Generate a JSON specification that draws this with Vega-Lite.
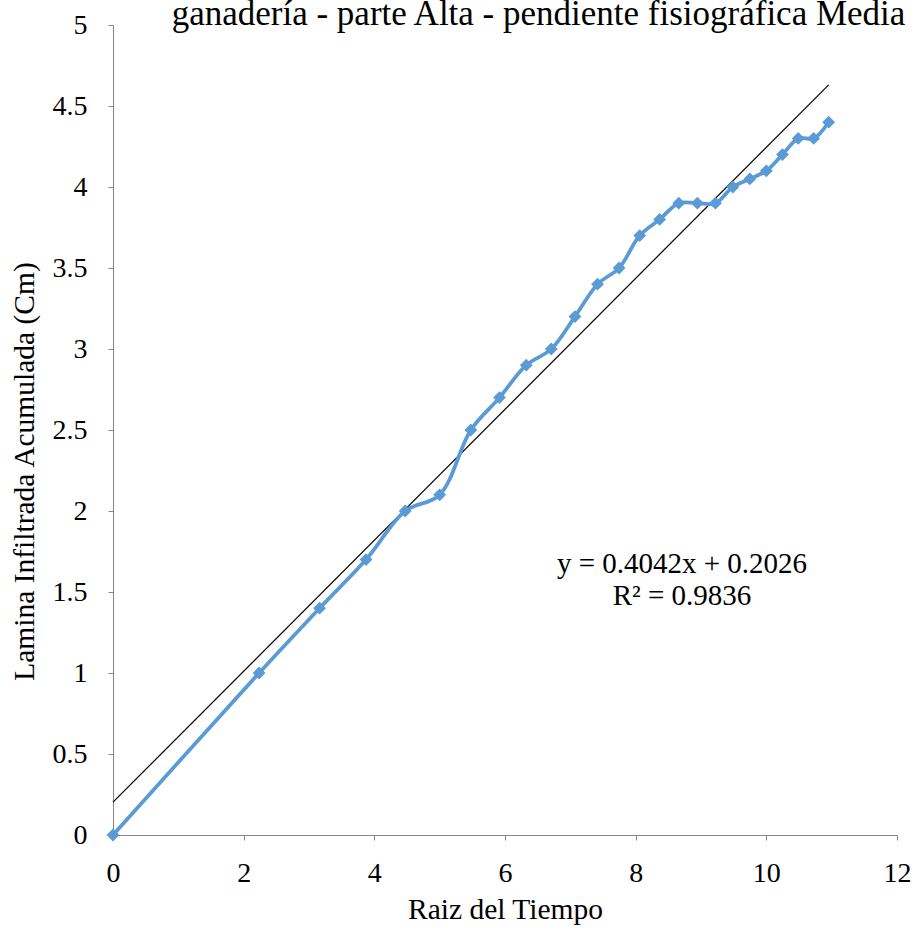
{
  "$schema": "https://vega.github.io/schema/vega-lite/v6.json",
  "width": 784,
  "height": 810,
  "autosize": {"type": "none"},
  "padding": {"left": 113, "top": 25, "right": 24, "bottom": 110},
  "background": "white",
  "config": {
    "font": "Liberation Serif",
    "view": {"stroke": null},
    "axis": {
      "domainColor": "#868686",
      "tickColor": "#868686",
      "tickSize": 5,
      "grid": false,
      "labelFont": "Liberation Serif",
      "labelFontSize": 28,
      "labelColor": "black",
      "labelFlush": false,
      "labelOverlap": false,
      "titleFont": "Liberation Serif",
      "titleFontSize": 29.5,
      "titleFontWeight": "normal",
      "titleColor": "black"
    }
  },
  "datasets": {
    "infiltracion": [
      {"raiz": 0, "lamina": 0},
      {"raiz": 2.236, "lamina": 1.0},
      {"raiz": 3.162, "lamina": 1.4},
      {"raiz": 3.873, "lamina": 1.7},
      {"raiz": 4.472, "lamina": 2.0},
      {"raiz": 5.0, "lamina": 2.1},
      {"raiz": 5.477, "lamina": 2.5},
      {"raiz": 5.916, "lamina": 2.7},
      {"raiz": 6.325, "lamina": 2.9},
      {"raiz": 6.708, "lamina": 3.0},
      {"raiz": 7.071, "lamina": 3.2},
      {"raiz": 7.416, "lamina": 3.4},
      {"raiz": 7.746, "lamina": 3.5},
      {"raiz": 8.062, "lamina": 3.7},
      {"raiz": 8.367, "lamina": 3.8},
      {"raiz": 8.660, "lamina": 3.9},
      {"raiz": 8.944, "lamina": 3.9},
      {"raiz": 9.220, "lamina": 3.9},
      {"raiz": 9.487, "lamina": 4.0},
      {"raiz": 9.747, "lamina": 4.05},
      {"raiz": 10.0, "lamina": 4.1},
      {"raiz": 10.247, "lamina": 4.2},
      {"raiz": 10.488, "lamina": 4.3},
      {"raiz": 10.724, "lamina": 4.3},
      {"raiz": 10.954, "lamina": 4.4}
    ],
    "tendencia": [
      {"raiz": 0, "lamina": 0.2026},
      {"raiz": 10.954, "lamina": 4.6302}
    ],
    "titulo": [{"texto": "ganadería - parte Alta - pendiente fisiográfica Media"}],
    "ecuacion": [{"texto": "y = 0.4042x + 0.2026"}],
    "ajuste": [{"texto": "R² = 0.9836"}]
  },
  "layer": [
    {
      "data": {"name": "tendencia"},
      "mark": {"type": "line", "color": "black", "strokeWidth": 1.2},
      "encoding": {
        "x": {
          "field": "raiz",
          "type": "quantitative",
          "scale": {"domain": [0, 12], "nice": false},
          "axis": {
            "title": "Raiz del Tiempo",
            "values": [0, 2, 4, 6, 8, 10, 12],
            "format": "~g",
            "labelPadding": 19,
            "titleBaseline": "alphabetic",
            "titleY": 83
          }
        },
        "y": {
          "field": "lamina",
          "type": "quantitative",
          "scale": {"domain": [0, 5], "nice": false},
          "axis": {
            "title": "Lamina Infiltrada Acumulada (Cm)",
            "values": [0, 0.5, 1, 1.5, 2, 2.5, 3, 3.5, 4, 4.5, 5],
            "format": "~g",
            "labelPadding": 21,
            "titleAngle": -90,
            "titleAlign": "center",
            "titleBaseline": "alphabetic",
            "titleX": -80,
            "titleY": 446
          }
        }
      }
    },
    {
      "data": {"name": "infiltracion"},
      "mark": {"type": "line", "color": "#5B9BD5", "strokeWidth": 3.75, "interpolate": "catmull-rom"},
      "encoding": {
        "x": {"field": "raiz", "type": "quantitative"},
        "y": {"field": "lamina", "type": "quantitative"}
      }
    },
    {
      "data": {"name": "infiltracion"},
      "mark": {"type": "point", "shape": "diamond", "filled": true, "size": 165, "color": "#5B9BD5", "opacity": 1},
      "encoding": {
        "x": {"field": "raiz", "type": "quantitative"},
        "y": {"field": "lamina", "type": "quantitative"}
      }
    },
    {
      "data": {"name": "titulo"},
      "mark": {"type": "text", "font": "Liberation Serif", "fontSize": 35, "color": "black", "align": "center", "baseline": "alphabetic"},
      "encoding": {
        "x": {"datum": 6.513, "type": "quantitative"},
        "y": {"datum": 5, "type": "quantitative"},
        "text": {"field": "texto", "type": "nominal"}
      }
    },
    {
      "data": {"name": "ecuacion"},
      "mark": {"type": "text", "font": "Liberation Serif", "fontSize": 29, "color": "black", "align": "center", "baseline": "alphabetic"},
      "encoding": {
        "x": {"datum": 8.709, "type": "quantitative"},
        "y": {"datum": 1.617, "type": "quantitative"},
        "text": {"field": "texto", "type": "nominal"}
      }
    },
    {
      "data": {"name": "ajuste"},
      "mark": {"type": "text", "font": "Liberation Serif", "fontSize": 29, "color": "black", "align": "center", "baseline": "alphabetic"},
      "encoding": {
        "x": {"datum": 8.709, "type": "quantitative"},
        "y": {"datum": 1.42, "type": "quantitative"},
        "text": {"field": "texto", "type": "nominal"}
      }
    }
  ]
}
